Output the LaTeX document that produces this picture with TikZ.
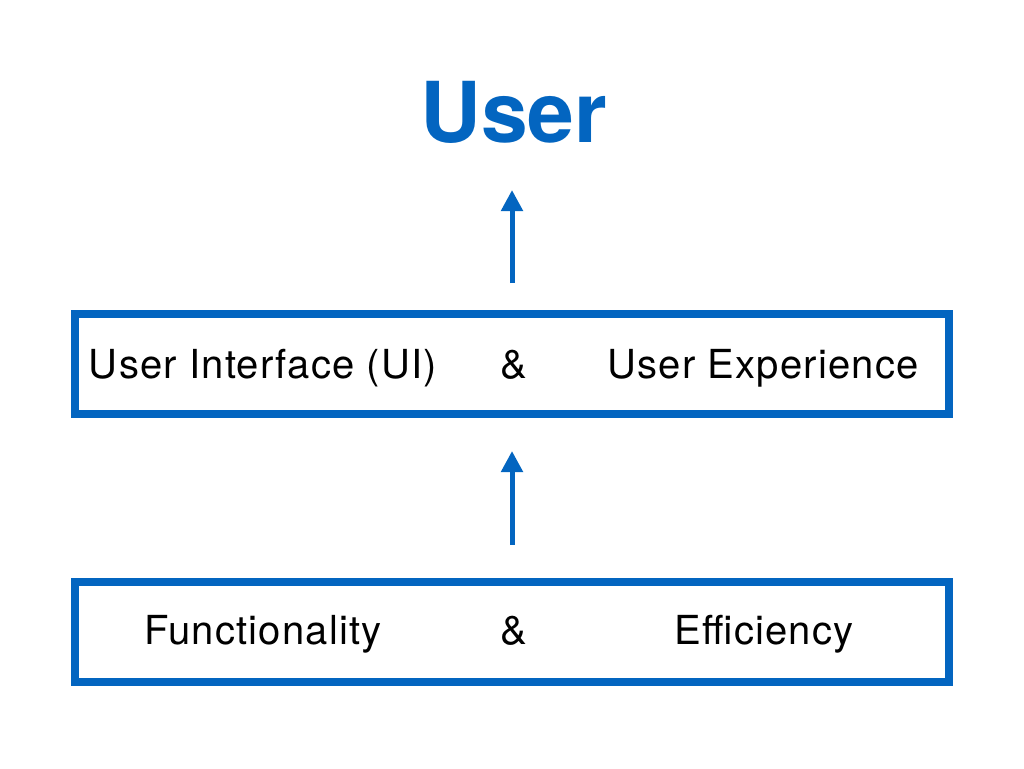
\documentclass[tikz,border=0pt]{standalone}
\usepackage{fontspec}
\setmainfont{TeX Gyre Heros}
\newfontfamily\lblfont[LetterSpace=3]{TeX Gyre Heros}
\usetikzlibrary{arrows.meta}
\definecolor{kblue}{RGB}{3,101,192}
\begin{document}
\begin{tikzpicture}[x=1pt,y=-1pt,
  box/.style={draw=kblue,line width=8pt,minimum width=874pt,minimum height=100pt,inner sep=0pt},
  lbl/.style={anchor=base,inner sep=0pt,font=\lblfont\fontsize{40}{44}\selectfont},
  arr/.style={draw=kblue,line width=5pt,-{Triangle[length=21pt,width=21pt]}}]
\useasboundingbox (0,0) rectangle (1024,768);
\node[box] (ui) at (512,364) {};
\node[box] (fe) at (512,631.5) {};
\node[anchor=base,inner sep=0pt,text=kblue,font=\fontsize{84}{90}\selectfont\bfseries] (title) at (514,142) {User};
\node[lbl] (uil) at (263,378) {User Interface (UI)};
\node[lbl] (uiamp) at (514,378) {\&};
\node[lbl] (uxl) at (763,378) {User Experience};
\node[lbl] (fl) at (263,644) {Functionality};
\node[lbl] (feamp) at (514,644) {\&};
\node[lbl] (el) at (764,644) {Efficiency};
\draw[arr,shorten <=27pt,shorten >=48pt] (ui.north) -- (ui.north |- title.base);
\draw[arr,shorten <=33pt,shorten >=33pt] (fe.north) -- (ui.south);
\end{tikzpicture}
\end{document}
